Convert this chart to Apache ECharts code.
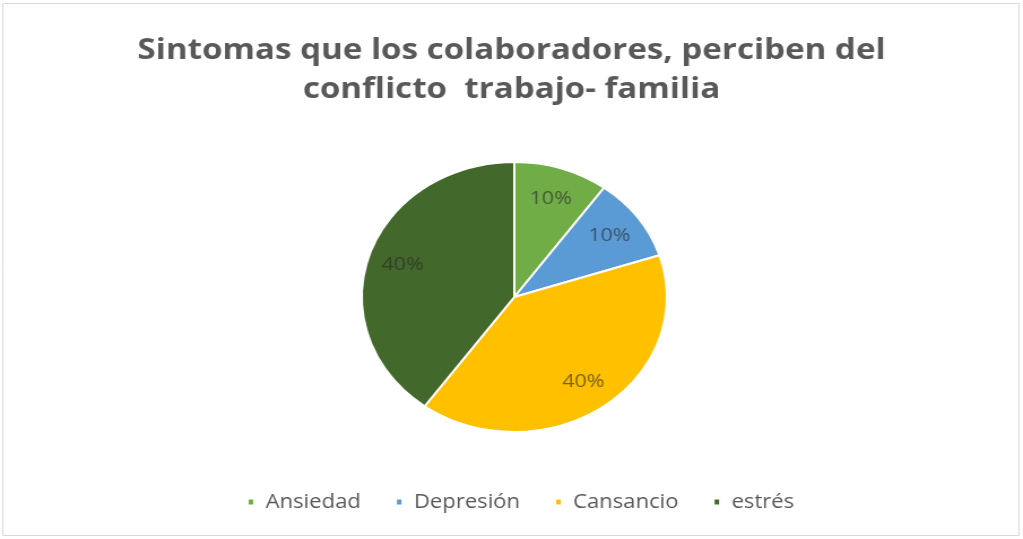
<!DOCTYPE html>
<html>
<head>
<meta charset="utf-8">
<script src="https://cdn.jsdelivr.net/npm/echarts@6/dist/echarts.min.js"></script>
<style>
  html, body { margin: 0; padding: 0; background: #fff; overflow: hidden; }
  #wrap { width: 1023px; height: 539px; overflow: hidden; }
  #chart { width: 905px; height: 539px; transform: scaleX(1.1304); transform-origin: 0 0; }
</style>
</head>
<body>
<div id="wrap"><div id="chart"></div></div>
<script>
// Síntomas del conflicto trabajo-familia (porcentaje de colaboradores)
const titleLines = ['Sintomas que los colaboradores, perciben del', 'conflicto  trabajo- familia'];
const categories = ['Ansiedad', 'Depresión', 'Cansancio', 'estrés'];
const values = [10, 10, 40, 40];
const colors = ['#70AD47', '#5B9BD5', '#FFC000', '#43682B'];

const center = [455, 297];
const radius = 135;
const labelRatio = 0.77;

const total = values.reduce((a, b) => a + b, 0);
function midAngle(i) {
  let acc = 0;
  for (let k = 0; k < i; k++) acc += values[k];
  return (acc + values[i] / 2) / total * Math.PI * 2;
}

const chart = echarts.init(document.getElementById('chart'), null, { renderer: 'canvas' });
chart.setOption({
  animation: false,
  backgroundColor: '#ffffff',
  title: {
    text: titleLines.join('\n'),
    left: 'center',
    top: 26,
    textStyle: {
      fontFamily: 'Open Sans',
      fontWeight: 'bold',
      fontSize: 29.3,
      lineHeight: 39,
      color: '#595959'
    }
  },
  legend: {
    data: categories,
    bottom: 22,
    left: 213,
    padding: 5,
    icon: 'rect',
    itemWidth: 6,
    itemHeight: 7,
    itemGap: 30,
    textStyle: {
      fontFamily: 'Open Sans',
      fontSize: 19.5,
      color: '#595959',
      padding: [0, 0, 0, 5]
    }
  },
  graphic: [{
    type: 'rect',
    shape: { x: 2.5, y: 3.5, width: 899, height: 532 },
    style: { fill: 'none', stroke: '#d9d9d9', lineWidth: 1 },
    silent: true
  }],
  series: [{
    type: 'pie',
    center: center,
    radius: [0, radius],
    startAngle: 90,
    clockwise: true,
    avoidLabelOverlap: false,
    itemStyle: { borderColor: '#ffffff', borderWidth: 2 },
    label: {
      show: true,
      position: 'inside',
      formatter: '{c}%',
      fontFamily: 'Open Sans',
      fontSize: 19,
      color: 'rgba(40,40,40,0.62)'
    },
    labelLine: { show: false },
    labelLayout: function (params) {
      const a = midAngle(params.dataIndex);
      return {
        x: center[0] + Math.sin(a) * radius * labelRatio,
        y: center[1] - Math.cos(a) * radius * labelRatio,
        align: 'center',
        verticalAlign: 'middle'
      };
    },
    emphasis: { disabled: true },
    data: categories.map((name, i) => ({
      name: name,
      value: values[i],
      itemStyle: { color: colors[i] }
    }))
  }]
});
</script>
</body>
</html>
